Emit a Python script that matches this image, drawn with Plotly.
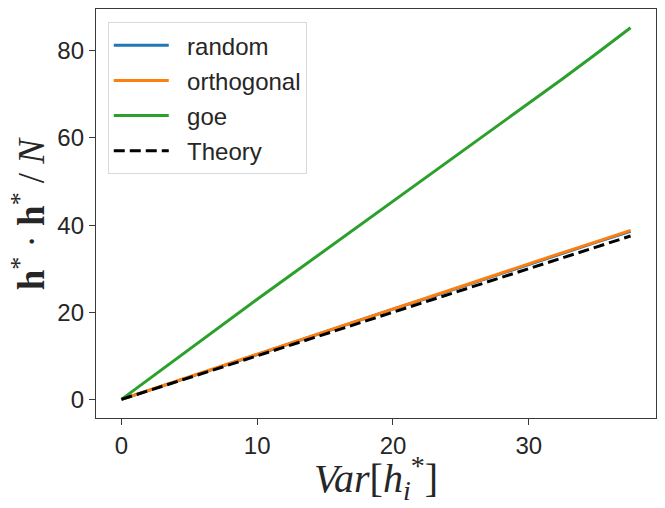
import plotly.graph_objects as go

var_h = [0, 2.5, 5, 7.5, 10, 12.5, 15, 17.5, 20, 22.5, 25, 27.5, 30, 32.5, 35, 37.5]
random_vals = [0, 2.5, 5.1, 7.7, 10.3, 12.9, 15.6, 18.2, 20.7, 23.2, 25.8, 28.4, 30.9, 33.5, 36.1, 38.6]
orthogonal_vals = [0, 2.6, 5.2, 7.8, 10.4, 12.9, 15.5, 18.1, 20.7, 23.3, 25.9, 28.5, 31.1, 33.7, 36.2, 38.8]
goe_vals = [0, 5.8, 11.6, 17.3, 23.0, 28.6, 34.2, 39.9, 45.5, 51.1, 56.8, 62.4, 67.9, 73.6, 79.4, 85.3]
theory_vals = [0, 2.5, 5, 7.5, 10, 12.5, 15, 17.5, 20, 22.5, 25, 27.5, 30, 32.5, 35, 37.5]

x_ticks = [0, 10, 20, 30]
y_ticks = [0, 20, 40, 60, 80]

fig = go.Figure()
series = [
    ("random", random_vals, "#1f77b4", "solid"),
    ("orthogonal", orthogonal_vals, "#ff7f0e", "solid"),
    ("goe", goe_vals, "#2ca02c", "solid"),
    ("Theory", theory_vals, "black", "11px,5px"),
]
for i, (name, vals, col, dash) in enumerate(series):
    fig.add_trace(go.Scatter(
        x=var_h, y=vals, mode="lines", name="\u00a0\u00a0" + name,
        line=dict(color=col, width=3, dash=dash),
        legendgroup=f"g{i}",
    ))

axis_common = dict(
    showgrid=False, zeroline=False, showline=True, mirror=True,
    linecolor="#3a3a3a", linewidth=1.3,
    ticks="outside", ticklen=6, tickwidth=1.3, tickcolor="#3a3a3a",
    tickfont=dict(family="Liberation Sans, Arial, sans-serif", size=24, color="#262626"),
)

# page body has an 8px margin; the figure is sized and placed to compensate
fig.update_layout(
    width=649, height=492,
    margin=dict(l=88, r=1, t=1, b=82),
    plot_bgcolor="white", paper_bgcolor="white",
    xaxis=dict(range=[-1.875, 39.375], tickvals=x_ticks, **axis_common),
    yaxis=dict(range=[-4.27, 89.6], tickvals=y_ticks, **axis_common),
    legend=dict(
        x=0.021, y=0.968, xanchor="left", yanchor="top",
        font=dict(family="Liberation Sans, Arial, sans-serif", size=24, color="#262626"),
        bgcolor="rgba(255,255,255,0.8)", bordercolor="#d9d9d9", borderwidth=1,
        tracegroupgap=1, itemwidth=55,
    ),
    showlegend=True,
    annotations=[
        dict(text="<i>Var</i>[<i>h</i><sub><i>i</i></sub><sup>*</sup>]",
             xref="paper", yref="paper", x=0.5, y=-0.074, xanchor="center", yanchor="top",
             showarrow=False,
             font=dict(family="Liberation Serif, DejaVu Serif, serif", size=40, color="#262626")),
        dict(text="<b>h</b><sup>*</sup> · <b>h</b><sup>*</sup> / <i>N</i>",
             xref="paper", yref="paper", x=-0.12, y=0.5, xanchor="center", yanchor="middle",
             textangle=-90, showarrow=False,
             font=dict(family="Liberation Serif, DejaVu Serif, serif", size=37, color="#262626")),
    ],
)

fig.write_html("out.html")
